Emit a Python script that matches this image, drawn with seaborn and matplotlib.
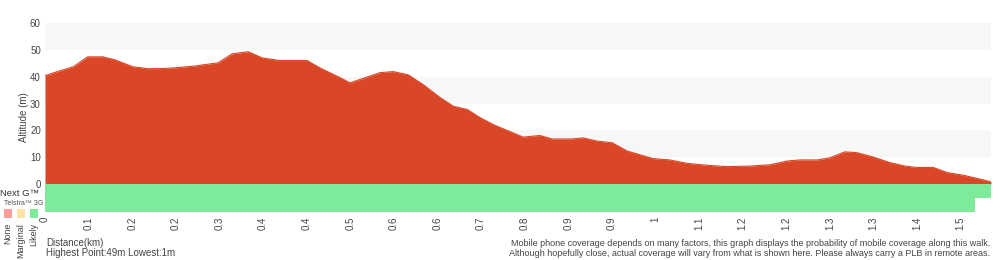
import numpy as np
import pandas as pd
import matplotlib
matplotlib.use("Agg")
import matplotlib.pyplot as plt
import seaborn as sns

# elevation profile (km, m)
distance_km = [0.000, 0.022, 0.047, 0.071, 0.096, 0.116, 0.146, 0.171, 0.191, 0.216,
               0.250, 0.288, 0.311, 0.338, 0.361, 0.391, 0.436, 0.457, 0.491, 0.507,
               0.532, 0.557, 0.579, 0.604, 0.629, 0.657, 0.679, 0.702, 0.723, 0.745,
               0.778, 0.795, 0.823, 0.843, 0.876, 0.895, 0.918, 0.943, 0.968, 1.011,
               1.039, 1.068, 1.101, 1.134, 1.172, 1.206, 1.234, 1.256, 1.284, 1.305,
               1.330, 1.350, 1.377, 1.405, 1.430, 1.450, 1.477, 1.500, 1.527, 1.550, 1.573]
altitude_m = [40.4, 42.0, 43.7, 47.4, 47.4, 46.3, 43.7, 43.0, 43.0, 43.3,
              44.0, 45.2, 48.5, 49.3, 47.0, 46.0, 46.0, 43.3, 39.6, 37.7,
              39.6, 41.5, 41.9, 40.7, 37.0, 32.2, 29.0, 27.8, 24.8, 22.2,
              19.1, 17.5, 18.1, 16.8, 16.8, 17.2, 16.0, 15.4, 12.3, 9.5,
              9.0, 7.7, 7.0, 6.5, 6.7, 7.2, 8.6, 9.0, 9.0, 9.8,
              12.0, 11.7, 10.1, 8.0, 6.7, 6.2, 6.2, 4.3, 3.3, 2.1, 0.85]

# coverage ("Likely") extent per network, km
coverage_names = ["Next G™", "3G"]
coverage_end_km = [1.573, 1.547]

tick_labels = ["0", "0.1", "0.2", "0.2", "0.3", "0.4", "0.4", "0.5", "0.6", "0.6", "0.7",
               "0.8", "0.9", "0.9", "1", "1.1", "1.2", "1.2", "1.3", "1.3", "1.4", "1.5"]
tick_step_km = 0.0725

legend_labels = ["None", "Marginal", "Likely"]
legend_colors = ["#ff9d9d", "#ffe1a6", "#7deb9a"]

RED = "#da4727"
GREEN = "#7deb9a"
TXT = "#444444"

df = pd.DataFrame({"km": distance_km, "alt": altitude_m})

sns.set_theme(style="white")
plt.rcParams["font.family"] = ["Liberation Sans", "DejaVu Sans"]

fig = plt.figure(figsize=(10, 2.6), dpi=100)
ax = fig.add_axes([0.045, 1 - 212 / 260, 0.946, (212 - 23) / 260])

# alternating grey bands
for lo in range(10, 60, 20):
    ax.axhspan(lo, lo + 10, color="#f7f7f7", lw=0, zorder=0)

ax.fill_between(df["km"], 0, df["alt"], color=RED, lw=0, zorder=2)
sns.lineplot(data=df, x="km", y="alt", color=RED, lw=0.8, ax=ax, zorder=3)

# coverage rows below zero
row_h = 5.2
for i, end in enumerate(coverage_end_km):
    ax.barh(-row_h * (i + 0.5), end, height=row_h, left=0, color=GREEN, lw=0, zorder=2)

xmax = distance_km[-1]
ax.set_xlim(0, xmax)
ax.set_ylim(-2 * row_h, 60)
ax.set_yticks(range(0, 61, 10))
ax.set_xticks([i * tick_step_km for i in range(len(tick_labels))])
ax.set_xticklabels(tick_labels, rotation=90)
ax.tick_params(axis="both", length=0, labelsize=7, colors=TXT, pad=3)
ax.set_xlabel("")
ax.set_ylabel("Altitude (m)", fontsize=7, color=TXT, labelpad=1)
for s in ax.spines.values():
    s.set_visible(False)

# left legend
fig.text(0.0, 1 - 193 / 260, "Next G™", fontsize=6.8, color="#333333", va="center", ha="left")
fig.text(0.004, 1 - 203.5 / 260, "Telstra™ 3G", fontsize=5, color="#555555", va="center", ha="left")
for i, (lab, col) in enumerate(zip(legend_labels, legend_colors)):
    x0 = 4 + i * 13
    fig.patches.append(plt.Rectangle((x0 / 1000, 1 - 218 / 260), 8 / 1000, 9 / 260,
                                     transform=fig.transFigure, color=col, lw=0))
    fig.text((x0 + 4) / 1000, 1 - 223 / 260, lab, fontsize=6.5, color=TXT,
             rotation=90, va="top", ha="center")

# footer text
fig.text(0.046, 1 - 243 / 260, "Distance(km)", fontsize=7, color=TXT, va="center")
fig.text(0.046, 1 - 253 / 260, "Highest Point:49m Lowest:1m", fontsize=7, color=TXT, va="center")
fig.text(0.990, 1 - 243 / 260,
         "Mobile phone coverage depends on many factors, this graph displays the probability of mobile coverage along this walk.",
         fontsize=6.5, color=TXT, va="center", ha="right")
fig.text(0.990, 1 - 253 / 260,
         "Although hopefully close, actual coverage will vary from what is shown here. Please always carry a PLB in remote areas.",
         fontsize=6.5, color=TXT, va="center", ha="right")

fig.savefig("out.png", dpi=100)
